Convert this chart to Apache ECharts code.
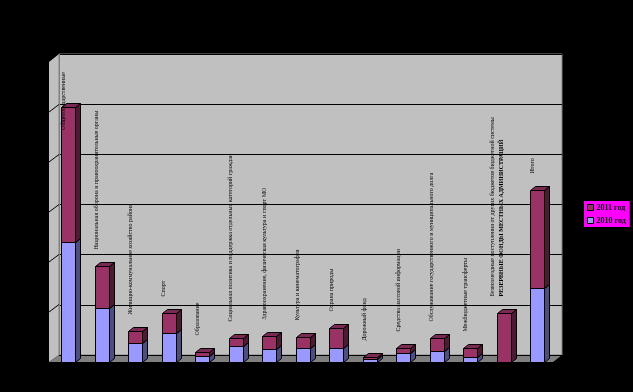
<!DOCTYPE html>
<html><head><meta charset="utf-8">
<script src="https://cdn.jsdelivr.net/npm/echarts@6/dist/echarts.min.js"></script>
<style>html,body{margin:0;padding:0;background:#000}#c{width:633px;height:392px}</style>
</head><body><div id="c"></div>
<script>
const categories = [
  "Общегосударственные",
  "Национальная оборона и правоохранительные органы",
  "Жилищно-коммунальное хозяйство района",
  "Спорт",
  "Образование",
  "Социальная политика и поддержка отдельных категорий граждан",
  "Здравоохранение, физическая культура и спорт МО",
  "Культура и кинематография",
  "Охрана природы",
  "Дорожный фонд",
  "Средства массовой информации",
  "Обслуживание государственного и муниципального долга",
  "Межбюджетные трансферты",
  "Безвозмездные поступления от других бюджетов бюджетной системы\nРЕЗЕРВНЫЕ ФОНДЫ МЕСТНЫХ АДМИНИСТРАЦИЙ",
  "Итого"
];
const values2010 = [2.40, 1.08, 0.38, 0.58, 0.12, 0.32, 0.26, 0.28, 0.28, 0.06, 0.18, 0.22, 0.10, 0.00, 1.48];
const values2011 = [2.68, 0.84, 0.24, 0.40, 0.08, 0.16, 0.26, 0.22, 0.40, 0.04, 0.10, 0.26, 0.18, 0.98, 1.94];
const seriesNames = ["2011 год", "2010 год"];

const chart = echarts.init(document.getElementById('c'), null, {renderer:'canvas'});
const mctx = document.createElement('canvas').getContext('2d');
const LABEL_SIZE = 6;
function measure(txt){
  let m = 0;
  txt.split('\n').forEach((l, k) => {
    mctx.font = (k === 1 ? 'bold ' : '') + LABEL_SIZE + 'px "Liberation Serif"';
    m = Math.max(m, mctx.measureText(l).width);
  });
  return m;
}
const data2010 = values2010.map((v, i) => [i, 0, v]);
const data2011 = values2011.map((v, i) => [i, values2010[i], values2010[i] + v]);

function makeRender(front, side, top, withLabel){
  return function(params, api){
    const i = api.value(0), b = api.value(1), t = api.value(2);
    const p0 = api.coord([i, b]), p1 = api.coord([i, t]);
    const w = 14, dx = 5, dy = -4;
    const x0 = Math.round(p0[0] - w / 2) + 0.5, x1 = x0 + w;
    const yb = Math.round(p0[1]) + 0.5, yt = Math.round(p1[1]) + 0.5;
    const children = [];
    if (t - b > 0) {
      const ls = {stroke:'#000', lineWidth:1};
      children.push({type:'polygon', shape:{points:[[x1,yb],[x1+dx,yb+dy],[x1+dx,yt+dy],[x1,yt]]}, style:Object.assign({fill:side}, ls)});
      children.push({type:'polygon', shape:{points:[[x0,yt],[x1,yt],[x1+dx,yt+dy],[x0+dx,yt+dy]]}, style:Object.assign({fill:top}, ls)});
      children.push({type:'rect', shape:{x:x0, y:yt, width:w, height:yb-yt}, style:Object.assign({fill:front}, ls)});
    }
    if (withLabel) {
      const txt = categories[i];
      const len = measure(txt);
      let by = yt - 17;
      if (by - len < 72) by = 72 + len;
      const lines = txt.split('\n');
      const rich = lines.length > 1;
      const text = rich ? '{a|' + lines[0] + '}\n{b|' + lines[1] + '}' : txt;
      children.push({type:'text', x: p1[0] - (rich ? 6.5 : 5), y: by, rotation: Math.PI / 2,
        style:{text:text, fill:'#000', fontSize:LABEL_SIZE, fontFamily:'Liberation Serif', align:'left', verticalAlign:'middle',
          lineHeight:9,
          rich:{a:{fontSize:LABEL_SIZE, fontFamily:'Liberation Serif', lineHeight:9, fill:'#000'},
                b:{fontSize:LABEL_SIZE, fontWeight:'bold', fontFamily:'Liberation Serif', lineHeight:9, fill:'#000'}}}});
    }
    return {type:'group', children:children};
  };
}

chart.setOption({
  backgroundColor:'#000',
  animation:false,
  graphic:[
    {type:'polygon', z:-1, shape:{points:[[49,62],[59,54],[59,355],[49,362]]}, style:{fill:'#c0c0c0', stroke:null}},
    {type:'polygon', z:-1, shape:{points:[[59,355],[562,355],[553,362],[49,362]]}, style:{fill:'#808080', stroke:null}},
    {type:'line', z:1, shape:{x1:59.5,y1:54,x2:59.5,y2:355}, style:{stroke:'#808080', lineWidth:1}},
    {type:'line', z:1, shape:{x1:49,y1:112,x2:59,y2:104.5}, style:{stroke:'#000', lineWidth:1}},
    {type:'line', z:1, shape:{x1:49,y1:162,x2:59,y2:154.5}, style:{stroke:'#000', lineWidth:1}},
    {type:'line', z:1, shape:{x1:49,y1:212,x2:59,y2:204.5}, style:{stroke:'#000', lineWidth:1}},
    {type:'line', z:1, shape:{x1:49,y1:262,x2:59,y2:254.5}, style:{stroke:'#000', lineWidth:1}},
    {type:'line', z:1, shape:{x1:49,y1:312,x2:59,y2:304.5}, style:{stroke:'#000', lineWidth:1}}
  ],
  legend:{
    data:seriesNames, orient:'vertical', left:584, top:201,
    backgroundColor:'#ff00ff', padding:[2,4,2,3], itemGap:4, itemWidth:6, itemHeight:6,
    icon:'rect',
    itemStyle:{borderColor:'#000', borderWidth:1},
    textStyle:{color:'#000', fontSize:8, lineHeight:9, fontWeight:'bold', fontFamily:'Liberation Serif', padding:[0,0,0,-2]}
  },
  grid:[
    {left:51.25, top:61, width:502.5, height:301, show:false},
    {left:59, top:54, width:503, height:301, show:true, backgroundColor:'#c0c0c0', borderColor:'#808080', borderWidth:1}
  ],
  xAxis:[
    {type:'category', gridIndex:0, data:categories, show:false},
    {type:'category', gridIndex:1, data:categories, show:false}
  ],
  yAxis:[
    {type:'value', gridIndex:0, min:0, max:6, interval:1, show:false, splitLine:{show:false}},
    {type:'value', gridIndex:1, min:0, max:6, interval:1, axisLine:{show:false}, axisTick:{show:false}, axisLabel:{show:false},
     splitLine:{show:true, lineStyle:{color:'#000', width:1}}}
  ],
  series:[
    {name:'2010 год', type:'custom', xAxisIndex:0, yAxisIndex:0, data:data2010, encode:{x:0, y:[1,2]},
     itemStyle:{color:'#9999ff'}, renderItem:makeRender('#9999ff', '#4d4d80', '#7a7acc', false)},
    {name:'2011 год', type:'custom', xAxisIndex:0, yAxisIndex:0, data:data2011, encode:{x:0, y:[1,2]},
     itemStyle:{color:'#993366'}, renderItem:makeRender('#993366', '#4d1a33', '#7a2952', true)}
  ]
});
</script></body></html>
